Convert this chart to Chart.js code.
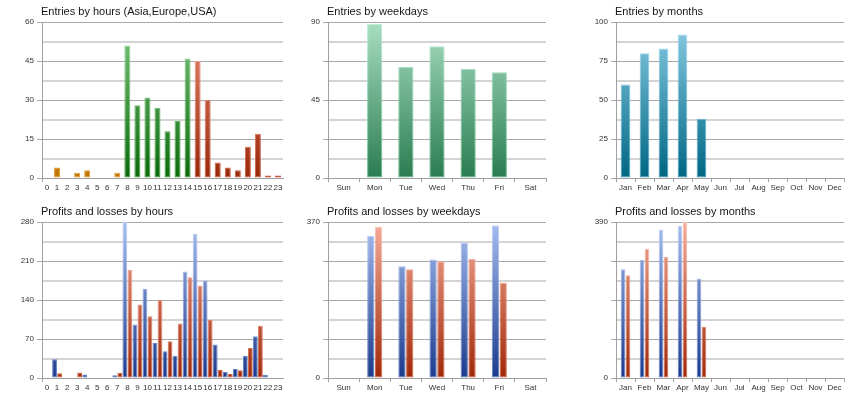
<!DOCTYPE html>
<html>
<head>
<meta charset="utf-8">
<script src="https://cdn.jsdelivr.net/npm/chart.js@4/dist/chart.umd.min.js"></script>
<style>
  html, body { margin: 0; padding: 0; background: #fff; }
  #wrap { position: relative; width: 860px; height: 400px; overflow: hidden; }
  canvas { position: absolute; }
</style>
</head>
<body>
<div id="wrap">
  <canvas id="c1" width="287" height="200" style="left:0px;top:0px"></canvas>
  <canvas id="c2" width="264" height="200" style="left:286px;top:0px"></canvas>
  <canvas id="c3" width="274" height="200" style="left:574px;top:0px"></canvas>
  <canvas id="c4" width="287" height="200" style="left:0px;top:200px"></canvas>
  <canvas id="c5" width="264" height="200" style="left:286px;top:200px"></canvas>
  <canvas id="c6" width="274" height="200" style="left:574px;top:200px"></canvas>
</div>
<script>
// ---------- data ----------
const hourLabels = ['0','1','2','3','4','5','6','7','8','9','10','11','12','13','14','15','16','17','18','19','20','21','22','23'];
const hourRegion = ['Asia','Asia','Asia','Asia','Asia','Asia','Asia','Asia',
                    'Europe','Europe','Europe','Europe','Europe','Europe','Europe',
                    'USA','USA','USA','USA','USA','USA','USA','USA','USA'];
const hourEntries = [0,4,0,2,3,0,0,2,51,28,31,27,18,22,46,45,30,6,4,3,12,17,1,1];

const weekdayLabels = ['Sun','Mon','Tue','Wed','Thu','Fri','Sat'];
const weekdayEntries = [0,89,64,76,63,61,0];

const monthLabels = ['Jan','Feb','Mar','Apr','May','Jun','Jul','Aug','Sep','Oct','Nov','Dec'];
const monthEntries = [60,80,83,92,38,0,0,0,0,0,0,0];

const hourProfits = [0,33.5,0,1,6.5,0,0,5,280,96,160,63,48,40,191,259,175,60,11,16,40,75,6,1.5];
const hourLosses  = [0,8.5,0,10,0,0,0,9.5,194,132,111,140,66,98,181,166,104,14.5,7,14,54,94,0,0];

const weekdayProfits = [0,337,265,281,321,362,0];
const weekdayLosses  = [0,359,258,277,283,226,0];

const monthProfits = [272,295,371,380,249,0,0,0,0,0,0,0];
const monthLosses  = [257,323,303,390,128,0,0,0,0,0,0,0];

const yLabels1 = [0,15,30,45,60];
const yLabels2 = [0,45,90];
const yLabels3 = [0,25,50,75,100];
const yLabels4 = [0,70,140,210,280];
const yLabels5 = [0,370];
const yLabels6 = [0,390];

// ---------- styles ----------
const FONT = '"Liberation Sans", Arial, sans-serif';
const palette = {
  Asia:    {ft:'#f2b444', fb:'#c07400', bt:'#f8cc78', bb:'#e09a30'},
  Europe:  {ft:'#80c880', fb:'#0a6a0a', bt:'#a6dca6', bb:'#3c9a3c'},
  USA:     {ft:'#ec8c78', fb:'#982808', bt:'#f6b4a4', bb:'#c85a40'},
  week:    {ft:'#a8dec2', fb:'#2a7c50', bt:'#bdeed4', bb:'#5cb888'},
  month:   {ft:'#8ccee6', fb:'#006682', bt:'#aadef2', bb:'#3c9ec0'},
  profit:  {ft:'#a6bef0', fb:'#1c3a8c', bt:'#c4d4f6', bb:'#5878c0'},
  loss:    {ft:'#f6ac9a', fb:'#a02808', bt:'#fac8ba', bb:'#d06040'}
};
function areaGrad(chart, top, bottom) {
  const a = chart.chartArea;
  if (!a) return bottom;
  const g = chart.ctx.createLinearGradient(0, a.top, 0, a.bottom);
  g.addColorStop(0, top);
  g.addColorStop(1, bottom);
  return g;
}
function fillOf(key) { return c => { const p = palette[typeof key === 'function' ? key(c) : key]; return areaGrad(c.chart, p.ft, p.fb); }; }
function borderOf(key) { return c => { const p = palette[typeof key === 'function' ? key(c) : key]; return areaGrad(c.chart, p.bt, p.bb); }; }

const titlePlugin = {
  id: 'panelTitle',
  afterDraw(chart, args, opts) {
    const ctx = chart.ctx;
    ctx.save();
    ctx.font = '11px ' + FONT;
    ctx.fillStyle = '#151515';
    ctx.textBaseline = 'alphabetic';
    ctx.textAlign = 'left';
    ctx.fillText(opts.text, chart.chartArea.left - 1, chart.chartArea.top - 7);
    ctx.restore();
  }
};

function makeChart(id, cfg) {
  const yMax = cfg.yLabels[cfg.yLabels.length - 1];
  const step = yMax / 8;
  return new Chart(document.getElementById(id), {
    type: 'bar',
    data: { labels: cfg.labels, datasets: cfg.datasets },
    options: {
      responsive: false,
      animation: false,
      events: [],
      layout: { padding: { top: 22, right: 4, left: 0, bottom: 0 } },
      plugins: { legend: { display: false }, tooltip: { enabled: false }, panelTitle: { text: cfg.title } },
      datasets: { bar: { categoryPercentage: cfg.cat, barPercentage: cfg.bar, borderWidth: 1, borderSkipped: false } },
      scales: {
        x: {
          grid: {
            offset: true, drawOnChartArea: false, drawTicks: true, tickLength: 4,
            tickColor: c => (cfg.hideXTicks && c.index !== 0) ? 'rgba(0,0,0,0)' : '#a0a0a0'
          },
          border: { color: '#a0a0a0' },
          ticks: { autoSkip: false, maxRotation: 0, minRotation: 0, padding: 1, font: { size: 8, family: FONT }, color: '#333' },
          afterFit: s => { s.height = 22; }
        },
        y: {
          min: 0, max: yMax,
          grid: {
            color: c => (c.index % 2) ? '#d4d4d4' : '#a8a8a8',
            lineWidth: c => (c.index % 2) ? 2 : 1,
            tickLength: 5,
            tickColor: c => (c.index % 2) ? 'rgba(0,0,0,0)' : '#a8a8a8'
          },
          border: { color: '#a0a0a0' },
          ticks: {
            stepSize: step, padding: 3, font: { size: 8, family: FONT }, color: '#333',
            callback: v => cfg.yLabels.includes(v) ? String(v) : ''
          },
          afterFit: s => { s.width = 42; }
        }
      }
    },
    plugins: [titlePlugin]
  });
}

const regionOf = c => hourRegion[c.dataIndex];

makeChart('c1', {
  title: 'Entries by hours (Asia,Europe,USA)', labels: hourLabels, yLabels: yLabels1,
  cat: 0.6, bar: 1, hideXTicks: true,
  datasets: [{ data: hourEntries, backgroundColor: fillOf(regionOf), borderColor: borderOf(regionOf) }]
});
makeChart('c2', {
  title: 'Entries by weekdays', labels: weekdayLabels, yLabels: yLabels2,
  cat: 0.5, bar: 0.98,
  datasets: [{ data: weekdayEntries, backgroundColor: fillOf('week'), borderColor: borderOf('week') }]
});
makeChart('c3', {
  title: 'Entries by months', labels: monthLabels, yLabels: yLabels3,
  cat: 0.52, bar: 0.98,
  datasets: [{ data: monthEntries, backgroundColor: fillOf('month'), borderColor: borderOf('month') }]
});
makeChart('c4', {
  title: 'Profits and losses by hours', labels: hourLabels, yLabels: yLabels4,
  cat: 1, bar: 0.96, hideXTicks: true,
  datasets: [
    { data: hourProfits, backgroundColor: fillOf('profit'), borderColor: borderOf('profit') },
    { data: hourLosses, backgroundColor: fillOf('loss'), borderColor: borderOf('loss') }
  ]
});
makeChart('c5', {
  title: 'Profits and losses by weekdays', labels: weekdayLabels, yLabels: yLabels5,
  cat: 0.5, bar: 0.94,
  datasets: [
    { data: weekdayProfits, backgroundColor: fillOf('profit'), borderColor: borderOf('profit') },
    { data: weekdayLosses, backgroundColor: fillOf('loss'), borderColor: borderOf('loss') }
  ]
});
makeChart('c6', {
  title: 'Profits and losses by months', labels: monthLabels, yLabels: yLabels6,
  cat: 0.52, bar: 0.94,
  datasets: [
    { data: monthProfits, backgroundColor: fillOf('profit'), borderColor: borderOf('profit') },
    { data: monthLosses, backgroundColor: fillOf('loss'), borderColor: borderOf('loss') }
  ]
});
</script>
</body>
</html>
